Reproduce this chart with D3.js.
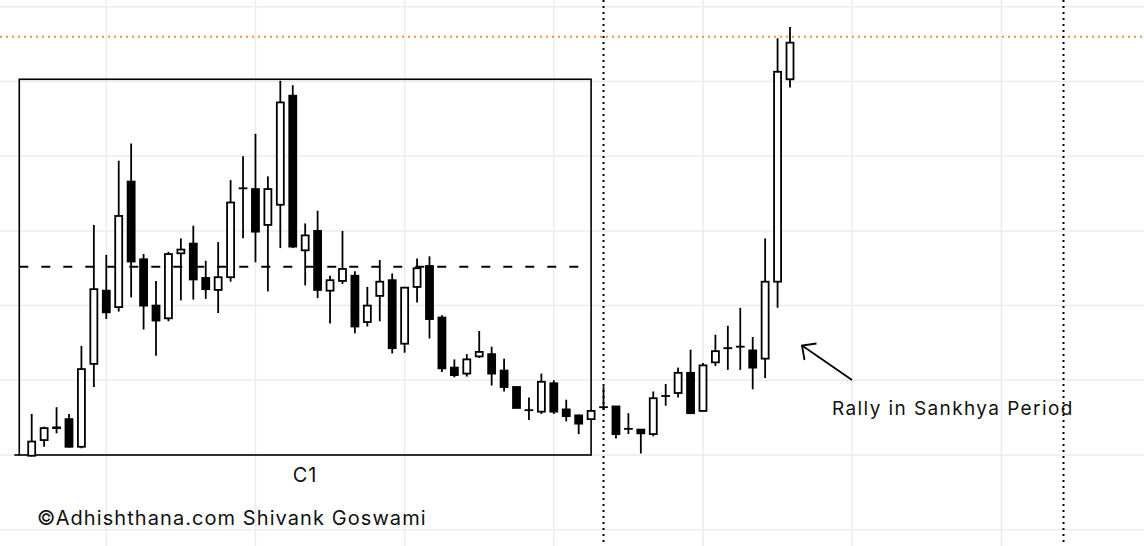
<!DOCTYPE html>
<html>
<head>
<meta charset="utf-8">
<script src="https://cdn.jsdelivr.net/npm/d3@7"></script>
<style>
  html, body { margin: 0; padding: 0; background: #fff; }
  svg { display: block; }
  text { font-family: "Inter", "Liberation Sans", Arial, sans-serif; fill: #111; }
</style>
</head>
<body>
<svg id="chart" width="1144" height="546"></svg>
<script>
// ---- data (OHLC per session) ----
const opens  = [99.9,102.0,103.6,104.8,101.1,112.2,122.0,119.8,136.6,126.2,120.0,118.3,127.0,128.3,123.7,122.1,123.8,135.7,135.6,130.8,133.5,148.1,
                127.4,130.0,122.0,123.3,124.0,117.8,121.3,123.4,114.9,122.5,125.3,118.4,111.7,110.9,113.2,113.5,111.3,109.1,106.0,105.8,109.6,106.1,105.3,104.8,
                106.4,106.5,103.5,103.4,102.8,107.9,108.3,111.0,105.9,112.4,114.3,114.5,114.0,112.9,123.2,150.3];
const highs  = [105.5,103.8,106.4,105.5,114.6,130.8,126.8,139.4,141.7,126.9,123.3,127.2,129.0,130.7,126.0,128.5,136.8,140.0,143.0,137.3,150.1,149.5,
                131.0,132.7,124.0,130.0,124.6,122.5,126.1,124.3,122.5,126.3,126.6,118.7,112.8,113.5,116.6,114.5,112.9,109.2,107.7,110.9,110.0,107.4,105.4,106.1,
                109.2,106.5,105.6,103.4,108.5,109.5,111.7,114.1,112.3,116.1,117.3,119.7,115.8,129.0,155.8,157.3];
const lows   = [99.8,101.1,102.9,101.0,100.9,109.1,118.2,119.2,121.1,116.8,113.3,117.9,120.7,120.8,120.9,119.0,123.2,129.0,125.8,121.9,127.7,127.7,
                122.7,121.0,117.6,122.9,116.3,117.2,117.9,113.6,113.7,120.4,115.6,111.1,110.4,110.5,113.0,109.3,108.5,106.3,104.7,105.5,105.5,104.5,102.8,104.8,
                106.0,102.2,102.8,100.2,102.5,106.6,107.7,105.6,105.9,111.9,111.4,111.4,108.8,110.3,119.7,149.2];
const closes = [101.8,103.6,103.7,101.1,111.5,122.2,119.1,132.0,125.9,120.0,118.0,126.9,127.5,123.5,122.2,123.8,133.8,135.7,129.9,135.6,147.2,127.9,
                129.4,122.1,123.4,124.9,117.2,120.0,123.2,114.3,122.4,125.0,118.2,111.6,110.7,112.8,113.8,110.9,109.1,106.3,106.0,109.8,105.8,105.2,104.2,105.9,
                106.4,102.8,103.5,102.9,107.6,107.9,111.0,105.6,112.0,113.9,114.3,114.5,111.7,123.2,151.3,155.2];

const priceTicks = [90,100,110,120,130,140,150,160];
const gridIndexTicks = [6,18,30,42,54,66,78];
const dottedIndex = [46, 83];
const resistance = 156.0;     // orange dotted level
const midLevel = 125.2;       // dashed level inside the C1 box
const boxRange = {i0: -1, i1: 45, p0: 100, p1: 150.3};
const boxLabel = "C1";
const annotation = "Rally in Sankhya Period";
const credit = "©Adhishthana.com Shivank Goswami";

const candles = opens.map((o, i) => ({i, o, h: highs[i], l: lows[i], c: closes[i]}));

// ---- scales ----
const svg = d3.select("#chart");
const x = d3.scaleLinear().domain([0, 61]).range([31.7, 790]);
const y = d3.scaleLinear().domain([100, 150]).range([455, 81.5]);

// ---- grid ----
const grid = svg.append("g");
grid.selectAll("line.h").data(priceTicks).join("line")
  .attr("x1", 0).attr("x2", 1144)
  .attr("y1", d => y(d)).attr("y2", d => y(d))
  .attr("stroke", "#ececec").attr("stroke-width", 1.5);
grid.selectAll("line.v").data(gridIndexTicks).join("line")
  .attr("y1", 0).attr("y2", 546)
  .attr("x1", d => x(d)).attr("x2", d => x(d))
  .attr("stroke", "#ececec").attr("stroke-width", 1.5);

// ---- C1 box ----
svg.append("rect")
  .attr("x", x(boxRange.i0)).attr("y", y(boxRange.p1))
  .attr("width", x(boxRange.i1) - x(boxRange.i0))
  .attr("height", y(boxRange.p0) - y(boxRange.p1))
  .attr("fill", "none").attr("stroke", "#000").attr("stroke-width", 1.6);
svg.append("line")
  .attr("x1", x(-1.4)).attr("x2", x(boxRange.i0))
  .attr("y1", y(boxRange.p0)).attr("y2", y(boxRange.p0))
  .attr("stroke", "#000").attr("stroke-width", 1.6);

// dashed mid-level
svg.append("line")
  .attr("x1", x(boxRange.i0)).attr("x2", x(44.2))
  .attr("y1", y(midLevel)).attr("y2", y(midLevel))
  .attr("stroke", "#000").attr("stroke-width", 1.8)
  .attr("stroke-dasharray", "9,13");

// orange dotted resistance
svg.append("line")
  .attr("x1", 0).attr("x2", 1144)
  .attr("y1", y(resistance)).attr("y2", y(resistance))
  .attr("stroke", "#e8953a").attr("stroke-width", 2)
  .attr("stroke-dasharray", "2,4");

// vertical dotted period lines
svg.selectAll("line.dot").data(dottedIndex).join("line")
  .attr("x1", d => x(d)).attr("x2", d => x(d))
  .attr("y1", 0).attr("y2", 546)
  .attr("stroke", "#000").attr("stroke-width", 2)
  .attr("stroke-dasharray", "2,4");

// ---- candles ----
const bw = 7;
const cg = svg.append("g").selectAll("g").data(candles).join("g");
cg.append("line")
  .attr("x1", d => x(d.i)).attr("x2", d => x(d.i))
  .attr("y1", d => y(d.h)).attr("y2", d => y(d.l))
  .attr("stroke", "#000").attr("stroke-width", 1.8);
cg.append("rect")
  .attr("x", d => x(d.i) - bw / 2)
  .attr("width", bw)
  .attr("y", d => y(Math.max(d.o, d.c)))
  .attr("height", d => Math.max(0.01, Math.abs(y(d.o) - y(d.c))))
  .attr("fill", d => d.c >= d.o ? "#fff" : "#000")
  .attr("stroke", "#000").attr("stroke-width", 1.8);

// ---- texts ----
svg.append("text").attr("x", 305).attr("y", 482)
  .attr("text-anchor", "middle").attr("font-size", 20)
  .attr("letter-spacing", 1.0).text(boxLabel);
svg.append("text").attr("x", 37).attr("y", 525)
  .attr("font-size", 20).attr("letter-spacing", 1.07).text(credit);
svg.append("text").attr("x", 832).attr("y", 415)
  .attr("font-size", 19).attr("letter-spacing", 1.4).text(annotation);

// ---- arrow ----
const arrow = svg.append("g").attr("stroke", "#000").attr("stroke-width", 1.8).attr("fill", "none");
arrow.append("line").attr("x1", 852).attr("y1", 380).attr("x2", 802).attr("y2", 345.5);
arrow.append("polyline").attr("points", "816.5,343.5 802,345.5 804.5,360");
</script>
</body>
</html>
